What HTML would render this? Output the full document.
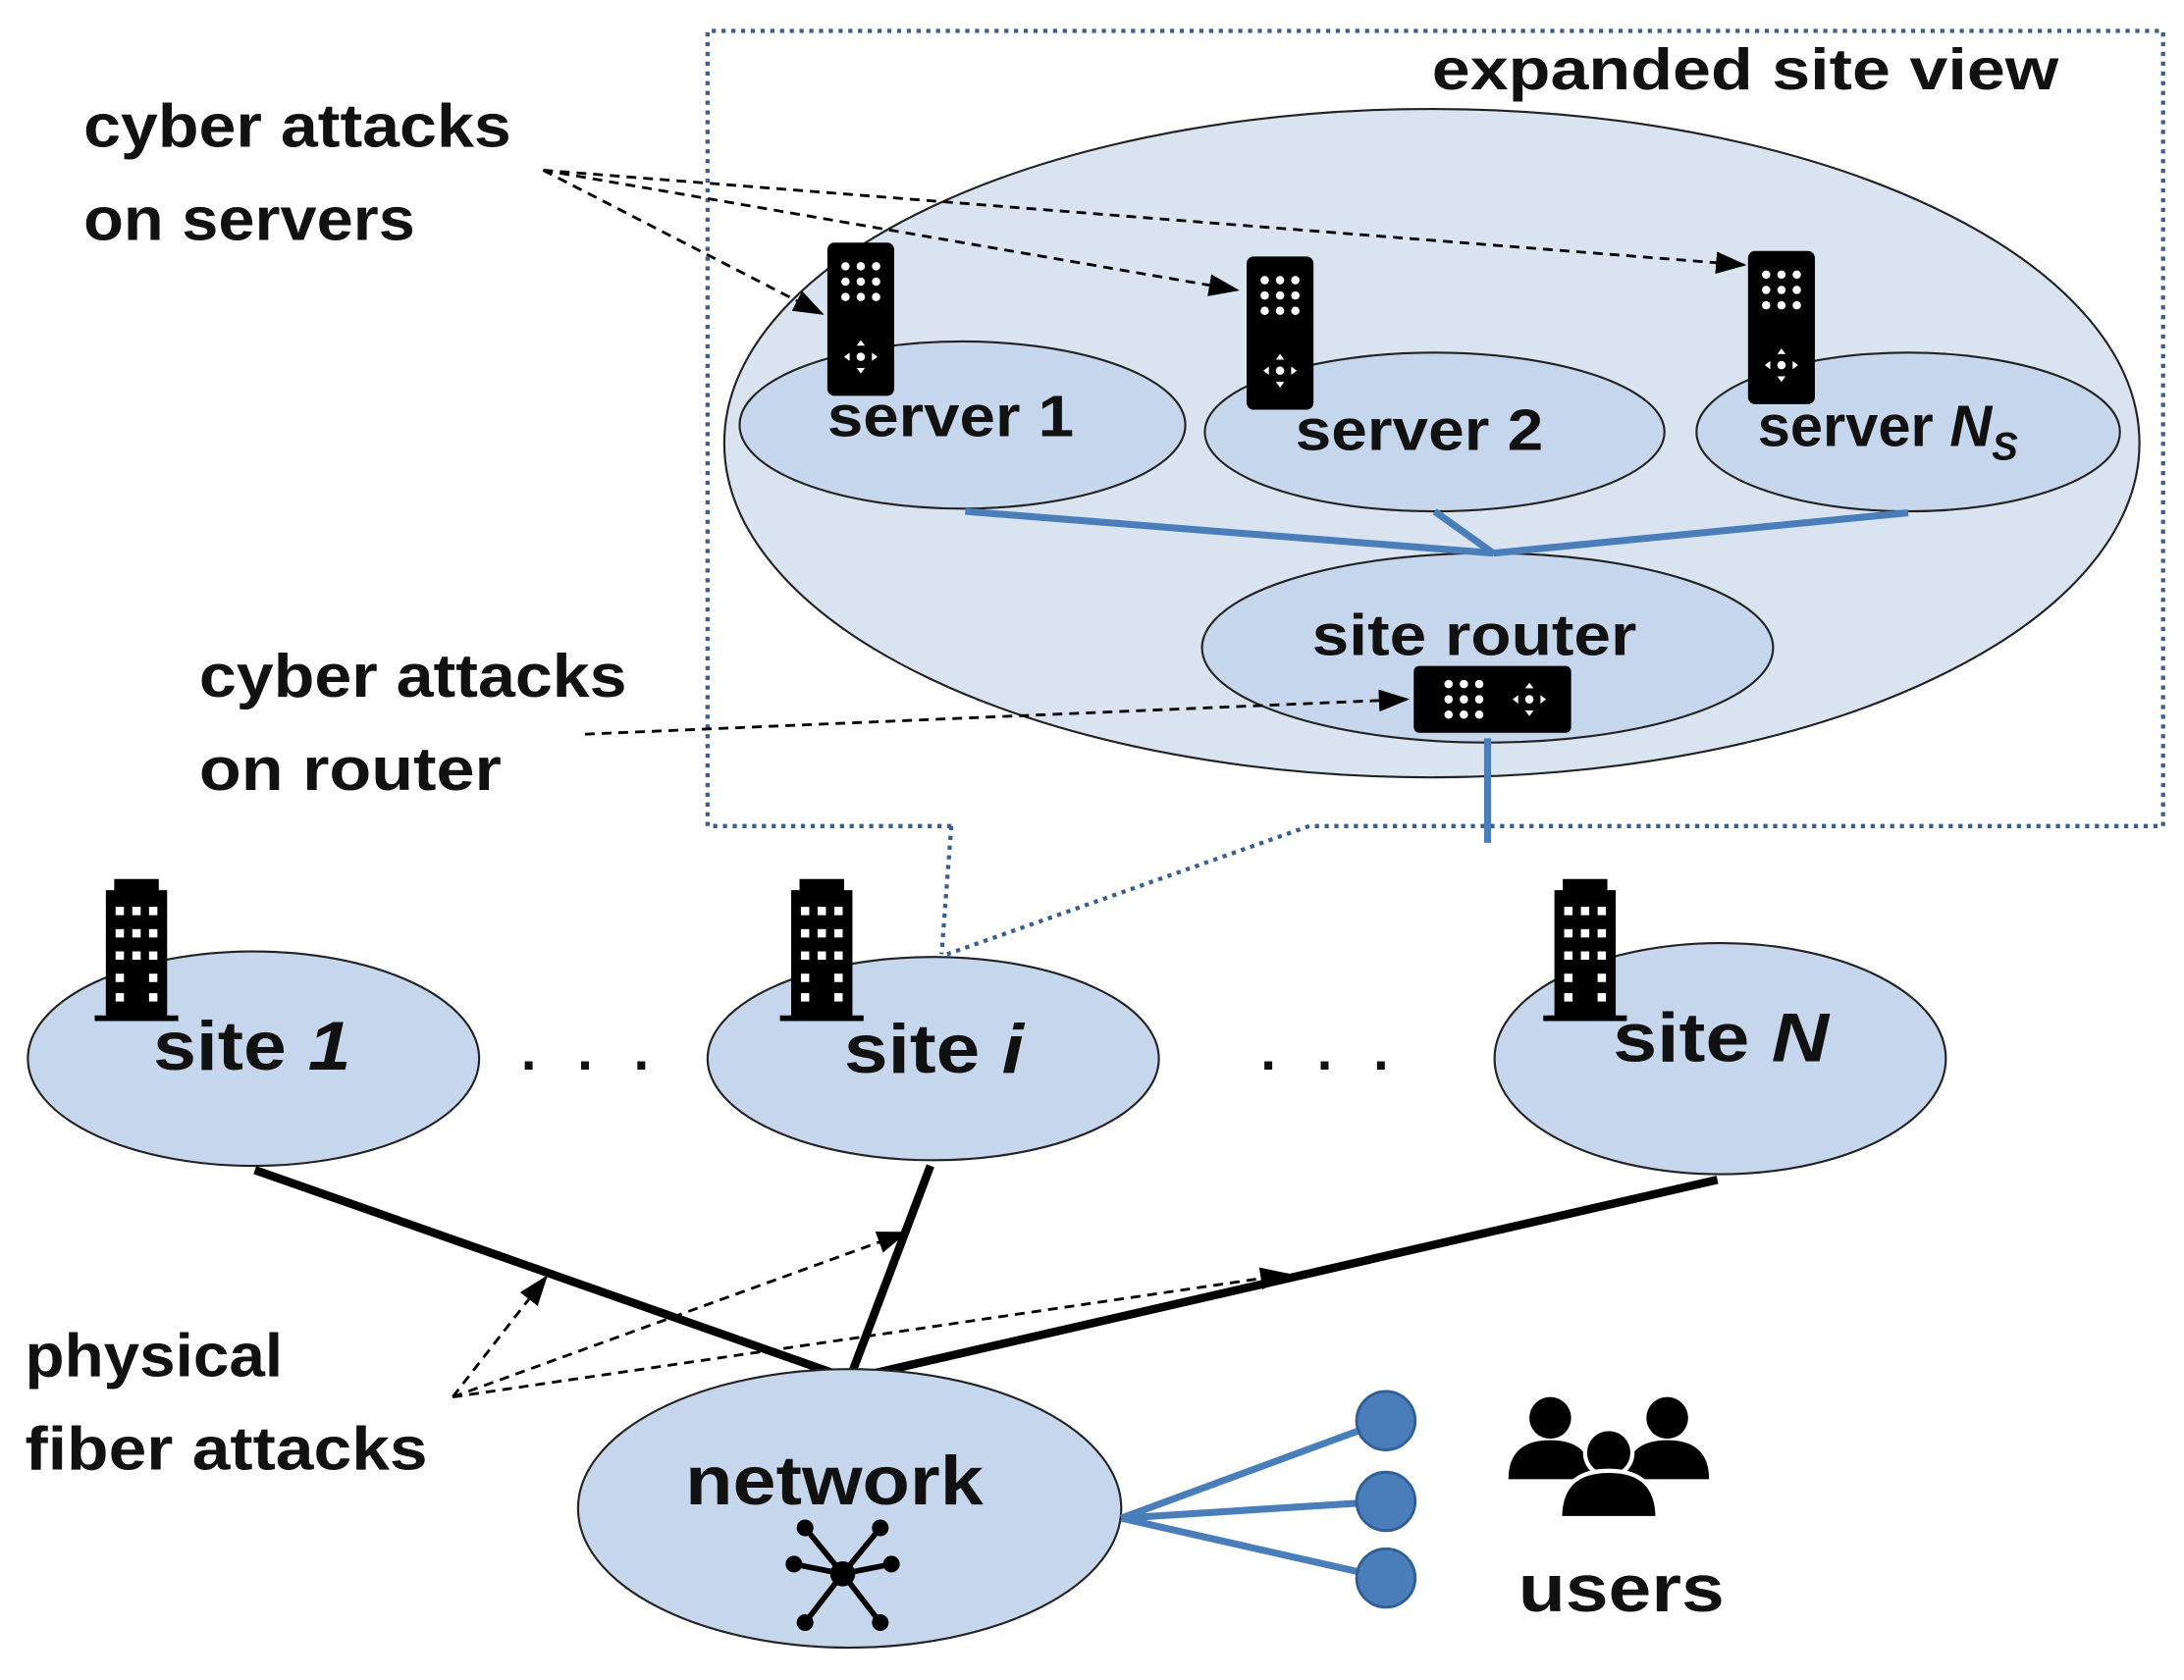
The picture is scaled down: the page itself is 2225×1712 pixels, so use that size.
<!DOCTYPE html>
<html><head><meta charset="utf-8"><style>
html,body{margin:0;padding:0;background:#fff;}
svg{display:block;}
text{font-family:"Liberation Sans",sans-serif;font-weight:bold;fill:#111;}
</style></head><body>
<svg width="2225" height="1712" viewBox="0 0 1568 1206" xmlns="http://www.w3.org/2000/svg">
<defs>
<marker id="ah2" markerWidth="22" markerHeight="16" refX="20" refY="8" orient="auto" markerUnits="userSpaceOnUse"><path d="M0,0 L22,8 L0,16 Z" fill="#000"/></marker>
<g id="srv"><rect x="0" y="0" width="48" height="110" rx="5" fill="#000"/>
<g fill="#fff"><circle cx="13" cy="17" r="3"/><circle cx="24" cy="17" r="3"/><circle cx="35" cy="17" r="3"/><circle cx="13" cy="28" r="3"/><circle cx="24" cy="28" r="3"/><circle cx="35" cy="28" r="3"/><circle cx="13" cy="39" r="3"/><circle cx="24" cy="39" r="3"/><circle cx="35" cy="39" r="3"/>
<circle cx="24" cy="82" r="3"/><path d="M24,70 l3,4 h-6z M24,94 l3,-4 h-6z M12,82 l4,-3 v6z M36,82 l-4,-3 v6z"/></g></g>
<g id="bld"><path d="M8,8 h44 v90 h8 v4 h-60 v-4 h8z M14,0 h32 v8 h-32z" fill="#000"/>
<g fill="#fff"><rect x="15" y="20" width="6" height="6"/><rect x="27" y="20" width="6" height="6"/><rect x="39" y="20" width="6" height="6"/><rect x="15" y="36" width="6" height="6"/><rect x="27" y="36" width="6" height="6"/><rect x="39" y="36" width="6" height="6"/><rect x="15" y="52" width="6" height="6"/><rect x="27" y="52" width="6" height="6"/><rect x="39" y="52" width="6" height="6"/><rect x="15" y="68" width="6" height="6"/><rect x="39" y="68" width="6" height="6"/><rect x="15" y="82" width="6" height="6"/><rect x="39" y="82" width="6" height="6"/></g></g>
</defs>
<g stroke="#3a5f8f" stroke-width="3" stroke-dasharray="3,4" fill="none">
<path d="M683,593 H508 V22 H1553 V593 H940"/>
<path d="M683,593 L676,685"/><path d="M940,593 L680,685"/>
</g>
<ellipse cx="1028" cy="318" rx="508" ry="240" fill="#dae3f0" stroke="#222" stroke-width="1.5"/>
<ellipse cx="691" cy="305" rx="160" ry="60" fill="#c6d6ec" stroke="#222" stroke-width="1.5"/>
<ellipse cx="1030" cy="310" rx="165" ry="57" fill="#c6d6ec" stroke="#222" stroke-width="1.5"/>
<ellipse cx="1370" cy="310" rx="152" ry="57" fill="#c6d6ec" stroke="#222" stroke-width="1.5"/>
<ellipse cx="1068" cy="465" rx="205" ry="68" fill="#c6d6ec" stroke="#222" stroke-width="1.5"/>
<g stroke="#4a7ebb" stroke-width="5" fill="none">
<path d="M693,367 L1072,397 M1030,367 L1072,397 M1370,368 L1072,397 M1068,530 V605"/>
</g>
<use href="#srv" x="594" y="174"/>
<use href="#srv" x="895" y="184"/>
<use href="#srv" x="1255" y="180"/>
<rect x="1015" y="478" width="113" height="48" rx="4" fill="#000"/>
<g fill="#fff"><circle cx="1040" cy="491" r="3"/><circle cx="1051" cy="491" r="3"/><circle cx="1062" cy="491" r="3"/><circle cx="1040" cy="502" r="3"/><circle cx="1051" cy="502" r="3"/><circle cx="1062" cy="502" r="3"/><circle cx="1040" cy="513" r="3"/><circle cx="1051" cy="513" r="3"/><circle cx="1062" cy="513" r="3"/><circle cx="1098" cy="502" r="3"/><path d="M1098,490 l3,4 h-6z M1098,514 l3,-4 h-6z M1086,502 l4,-3 v6z M1110,502 l-4,-3 v6z"/></g>
<text x="594" y="313" font-size="42" textLength="177" lengthAdjust="spacingAndGlyphs">server 1</text>
<text x="930" y="323" font-size="42" textLength="178" lengthAdjust="spacingAndGlyphs">server 2</text>
<text x="1262" y="320" font-size="42">server <tspan font-style="italic">N</tspan><tspan font-style="italic" font-size="28" dy="10">S</tspan></text>
<text x="942" y="470" font-size="42" textLength="233" lengthAdjust="spacingAndGlyphs">site router</text>
<text x="1028" y="64" font-size="42" textLength="450" lengthAdjust="spacingAndGlyphs">expanded site view</text>
<text x="60" y="105" font-size="44" textLength="307" lengthAdjust="spacingAndGlyphs">cyber attacks</text>
<text x="60" y="172" font-size="44" textLength="238" lengthAdjust="spacingAndGlyphs">on servers</text>
<text x="143" y="500" font-size="44" textLength="307" lengthAdjust="spacingAndGlyphs">cyber attacks</text>
<text x="143" y="567" font-size="44" textLength="217" lengthAdjust="spacingAndGlyphs">on router</text>
<g stroke="#000" stroke-width="2" stroke-dasharray="7,5" fill="none" marker-end="url(#ah2)">
<path d="M390,122 L590,225"/><path d="M390,122 L888,208"/><path d="M390,122 L1252,190"/>
<path d="M420,527 L1010,502"/>
<path d="M325,1003 L392,917"/><path d="M325,1003 L650,885"/><path d="M325,1003 L925,915"/>
</g>
<ellipse cx="182" cy="760" rx="162" ry="77" fill="#c6d6ec" stroke="#222" stroke-width="1.5"/>
<ellipse cx="670" cy="760" rx="162" ry="73" fill="#c6d6ec" stroke="#222" stroke-width="1.5"/>
<ellipse cx="1235" cy="760" rx="162" ry="83" fill="#c6d6ec" stroke="#222" stroke-width="1.5"/>
<use href="#bld" x="68" y="631"/>
<use href="#bld" x="560" y="631"/>
<use href="#bld" x="1108" y="631"/>
<text x="110" y="768" font-size="50" textLength="142" lengthAdjust="spacingAndGlyphs">site <tspan font-style="italic">1</tspan></text>
<text x="606" y="770" font-size="50" textLength="129" lengthAdjust="spacingAndGlyphs">site <tspan font-style="italic">i</tspan></text>
<text x="1158" y="762" font-size="50" textLength="155" lengthAdjust="spacingAndGlyphs">site <tspan font-style="italic">N</tspan></text>
<text x="374" y="768" font-size="40" textLength="92" lengthAdjust="spacing">. . .</text>
<text x="905" y="768" font-size="40" textLength="92" lengthAdjust="spacing">. . .</text>
<g stroke="#000" stroke-width="6" fill="none">
<path d="M183,840 L610,990 M668,837 L610,990 M1233,847 L610,990"/>
</g>
<ellipse cx="610" cy="1083" rx="195" ry="100" fill="#c6d6ec" stroke="#222" stroke-width="1.5"/>
<text x="492" y="1080" font-size="50" textLength="214" lengthAdjust="spacingAndGlyphs">network</text>
<g stroke="#000" stroke-width="4"><path d="M605,1130 L578,1165 M605,1130 L632,1165 M605,1130 L570,1123 M605,1130 L640,1123 M605,1130 L578,1097 M605,1130 L632,1097"/></g>
<g fill="#000"><circle cx="605" cy="1130" r="9"/><circle cx="578" cy="1165" r="6"/><circle cx="632" cy="1165" r="6"/><circle cx="570" cy="1123" r="6"/><circle cx="640" cy="1123" r="6"/><circle cx="578" cy="1097" r="6"/><circle cx="632" cy="1097" r="6"/></g>
<g stroke="#4a7ebb" stroke-width="5"><path d="M805,1090 L995,1020 M805,1090 L995,1078 M805,1090 L995,1133"/></g>
<g fill="#4a7ebb" stroke="#2f5f95" stroke-width="2"><circle cx="995" cy="1020" r="21"/><circle cx="995" cy="1078" r="21"/><circle cx="995" cy="1133" r="21"/></g>
<g fill="#000">
<circle cx="1113" cy="1018" r="15"/><path d="M1083,1062 q0,-28 30,-28 q30,0 30,28z"/>
<circle cx="1197" cy="1018" r="15"/><path d="M1167,1062 q0,-28 30,-28 q30,0 30,28z"/>
<circle cx="1155" cy="1043" r="17" stroke="#fff" stroke-width="3"/><path d="M1120,1090 q0,-34 35,-34 q35,0 35,34z" stroke="#fff" stroke-width="3"/>
</g>
<text x="1090" y="1157" font-size="48" textLength="148" lengthAdjust="spacingAndGlyphs">users</text>
<text x="18" y="988" font-size="44" textLength="185" lengthAdjust="spacingAndGlyphs">physical</text>
<text x="18" y="1055" font-size="44" textLength="289" lengthAdjust="spacingAndGlyphs">fiber attacks</text>
</svg>
</body></html>
